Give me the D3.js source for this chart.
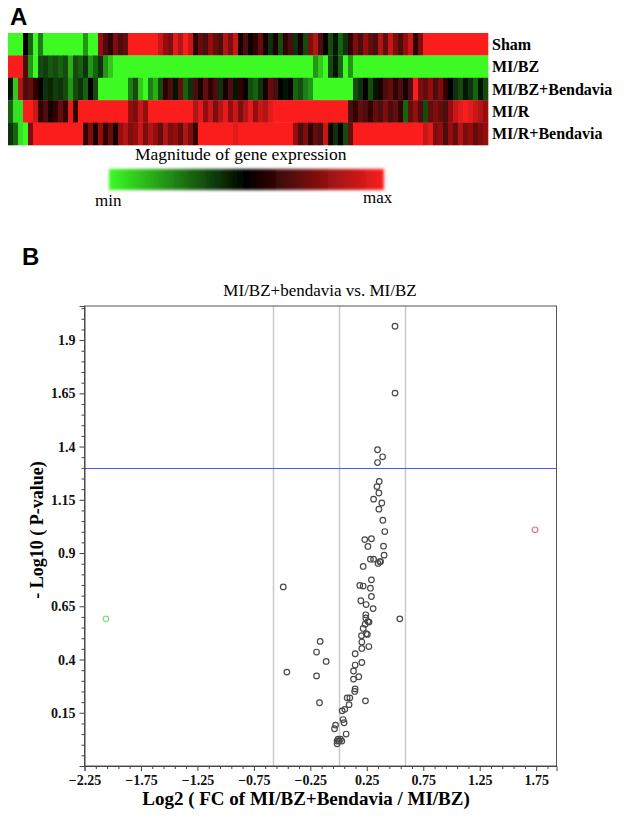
<!DOCTYPE html>
<html>
<head>
<meta charset="utf-8">
<script src="https://cdn.jsdelivr.net/npm/d3@7"></script>
<style>
  body { margin: 0; background: #fff; }
  svg { display: block; }
  .serif { font-family: "Liberation Serif", "Times New Roman", serif; }
</style>
</head>
<body>
<div id="chart"></div>
<script>
// heatmap rows, -1 = min (green), 0 = middle (black), 1 = max (red)
const groups = ["Sham", "MI/BZ", "MI/BZ+Bendavia", "MI/R", "MI/R+Bendavia"];

const sham = [-1,-1,-1,0,-0.4,-1,-0.5,-1,-1,-1,-1,-1,-1,-1,-1,-0.6,-1,-1,0.6,0.3,0.2,0.5,0.3,0.4,
  1,1,1,1,1,1,0.8,0.6,0.5,0.9,0.7,1,0.8,0.2,0.4,0.3,0.6,0.4,0.3,0.7,0.5,0.8,0.1,0.3,
  0.05,0.2,0.4,0.1,-0.2,0.1,-0.3,0.2,0.3,-0.2,0.1,-0.3,0.5,0.7,0.3,0,-0.3,-0.1,-0.4,-0.2,0.2,0.5,0.3,0.6,
  0.4,0.3,0.7,0.4,0.8,0.5,0.3,0.6,0.8,0.2,0.5,1,1,1,1,1,1,1,1,1,1,1,1,1];
const miBz = [1,1,1,0.3,-0.6,-1,-0.3,-0.25,-0.35,-0.3,-0.4,-0.3,-0.7,-0.3,-0.4,-0.2,-0.6,-0.4,-0.2,-0.6,-0.8,-1,-1,-1,
  -1,-1,-1,-1,-1,-1,-1,-1,-1,-1,-1,-1,-1,-1,-1,-1,-1,-1,-1,-1,-1,-1,-1,-1,
  -1,-1,-1,-1,-1,-1,-1,-1,-1,-1,-1,-1,-1,-0.6,-0.8,-1,-0.3,-0.1,-0.4,-1,-0.6,-1,-1,-1,
  -1,-1,-1,-1,-1,-1,-1,-1,-1,-1,-1,-1,-1,-1,-1,-1,-1,-1,-1,-1,-1,-1,-1,-1];
const miBzBendavia = [-0.1,-0.8,0.7,0.3,0.4,0.2,0,-0.2,-0.15,-0.25,-0.2,-0.3,-0.6,-0.3,-0.2,-0.4,0,-0.3,-1,-1,-1,-1,-1,-1,
  -0.5,-0.3,-0.8,-1,-0.5,-0.7,-0.3,0.2,0.3,-0.1,0.4,-0.4,-0.2,0.3,0.1,0.4,0.2,0.3,-0.2,0.1,0.3,-0.1,0.2,0,
  -0.3,-0.4,-0.2,0.1,0.4,0.3,0,-0.1,0,-0.4,-0.3,-0.5,-0.6,-1,-1,-1,-1,-1,-1,-1,-1,-0.3,-0.2,0,
  -0.3,-0.1,0.1,0.3,0.4,0.2,0.3,0.1,0.3,1,0.5,0.4,0.6,0.3,0.5,0.2,0,-0.2,-0.3,-0.1,-0.2,-0.4,-0.1,-0.3];
const miR = [-0.4,-0.9,-0.9,1,1,0.8,0.2,0.3,0.1,0.2,0.4,0.2,0.9,0.2,1,1,1,1,1,1,1,1,1,1,
  0.6,0.5,0.8,0.6,1,1,1,1,1,1,1,1,1,0.7,0.9,0.6,0.8,0.5,0.7,0.9,0.6,0.8,0.5,0.7,
  0.9,0.6,0.8,0.7,0.9,1,1,1,1,1,1,1,1,1,1,1,1,1,1,1,0.3,0.2,0.4,0.3,
  0.2,0.4,0.3,0.5,0.3,0.4,0.2,-0.4,0.4,0.6,0.3,-0.3,0.4,0.5,0.4,0.3,0.6,0.8,0.9,1,0.9,0.8,0.7,0.6];
const miRBendavia = [-0.2,-0.4,-0.9,-1,0.5,1,1,1,1,1,1,1,1,1,1,0.2,0.5,0.1,0.6,0.2,0.4,0.1,0.6,0.7,
  0.5,0.6,0.8,0.5,0.7,0.6,0.4,0.7,0.5,0.6,0.4,0.7,0.5,0.2,1,1,1,1,1,1,1,0.9,1,1,
  1,1,1,1,1,1,1,1,1,0.6,0.3,0.5,0.2,0.4,0.3,0.8,0.1,-0.2,0,-0.3,0.4,1,1,1,
  1,1,1,1,1,1,1,1,1,1,1,0.8,0.9,0.5,0.6,0.3,0.6,0.4,0.7,0.5,0.6,0.4,0.5,0.6];
const heatRows = [sham, miBz, miBzBendavia, miR, miRBendavia];

// volcano plot: [log2 fold change, -log10 p]
const grayGenes = [
  [0.50, 1.965], [0.50, 1.651], [0.345, 1.385], [0.39, 1.352], [0.345, 1.325],
  [0.36, 1.236], [0.34, 1.212], [0.357, 1.182], [0.31, 1.153], [0.383, 1.135],
  [0.357, 1.106], [0.392, 1.054], [0.409, 1.001], [0.232, 0.963], [0.291, 0.967],
  [0.26, 0.931], [0.398, 0.932], [0.403, 0.89], [0.282, 0.871], [0.31, 0.871],
  [0.366, 0.859], [0.372, 0.86], [0.35, 0.851], [0.218, 0.837], [0.291, 0.774],
  [-0.49, 0.741], [0.188, 0.748], [0.218, 0.745], [0.282, 0.735], [0.291, 0.696],
  [0.197, 0.676], [0.244, 0.658], [0.306, 0.639], [0.241, 0.61], [0.542, 0.591],
  [0.241, 0.595], [0.26, 0.578], [0.27, 0.576], [0.235, 0.566], [0.218, 0.546],
  [0.245, 0.521], [0.255, 0.518], [0.203, 0.512], [-0.163, 0.485], [0.206, 0.482],
  [0.268, 0.461], [0.206, 0.452], [-0.195, 0.435], [0.147, 0.427], [-0.11, 0.391],
  [0.206, 0.386], [0.147, 0.374], [-0.458, 0.341], [0.132, 0.346], [-0.195, 0.323],
  [0.179, 0.319], [0.132, 0.308], [0.147, 0.262], [0.143, 0.25], [0.076, 0.22],
  [0.1, 0.22], [-0.169, 0.197], [0.238, 0.206], [0.093, 0.188], [0.055, 0.166],
  [0.032, 0.159], [0.04, 0.118], [0.049, 0.103], [-0.027, 0.092], [-0.036, 0.075],
  [0.067, 0.05], [-0.004, 0.026], [0.017, 0.026], [-0.013, 0.017], [0.005, 0.017],
  [0.029, 0.017], [-0.013, 0.004]
];
const downGenes = [[-2.06, 0.591]];
const upGenes = [[1.74, 1.009]];

const xTicks = [-2.25, -1.75, -1.25, -0.75, -0.25, 0.25, 0.75, 1.25, 1.75];
const yTicks = [0.15, 0.4, 0.65, 0.9, 1.15, 1.4, 1.65, 1.9];
const fcCutoffs = [-0.585, 0, 0.585];
const pCutoff = 1.301;

const width = 629, height = 818;

const svg = d3.select("#chart").append("svg")
    .attr("width", width)
    .attr("height", height);

const defs = svg.append("defs");
defs.append("filter").attr("id", "soft")
    .attr("x", "-10%").attr("y", "-40%").attr("width", "120%").attr("height", "180%")
  .append("feGaussianBlur").attr("stdDeviation", 1.6);
defs.append("filter").attr("id", "jpeg")
  .append("feGaussianBlur").attr("stdDeviation", 0.5);

// ---- panel A ----
svg.append("text")
    .attr("x", 10).attr("y", 25)
    .attr("font-family", "Liberation Sans, Arial, sans-serif")
    .attr("font-weight", "bold").attr("font-size", 24)
    .text("A");

const heatColor = d3.scaleLinear()
    .domain([-1, 0, 1])
    .range(["#3cfb24", "#000000", "#fb1d1d"]);

const hx = d3.scaleBand().domain(d3.range(sham.length)).range([8, 488]);
const hy = d3.scaleBand().domain(groups).range([33, 145]);

const heat = svg.append("g").attr("filter", "url(#jpeg)");
heatRows.forEach((row, i) => {
  heat.append("g")
    .selectAll("rect")
    .data(row)
    .join("rect")
      .attr("x", (d, j) => hx(j))
      .attr("y", hy(groups[i]))
      .attr("width", hx.bandwidth() + 0.3)
      .attr("height", hy.bandwidth() + 0.3)
      .attr("fill", d => heatColor(d));
});

svg.append("g")
    .attr("class", "serif")
    .attr("font-weight", "bold").attr("font-size", 16)
  .selectAll("text")
  .data(groups)
  .join("text")
    .attr("x", 492)
    .attr("y", d => hy(d) + hy.bandwidth() / 2)
    .attr("dy", "0.35em")
    .text(d => d);

// colour key
const grad = defs.append("linearGradient").attr("id", "key");
[-1, -0.5, 0, 0.5, 1].forEach(v => {
  grad.append("stop")
    .attr("offset", `${(v + 1) * 50}%`)
    .attr("stop-color", heatColor(v));
});

svg.append("text")
    .attr("class", "serif")
    .attr("x", 135).attr("y", 160)
    .attr("font-size", 17.5)
    .text("Magnitude of gene expression");

svg.append("rect")
    .attr("x", 109).attr("y", 169)
    .attr("width", 275).attr("height", 21)
    .attr("fill", "url(#key)")
    .attr("filter", "url(#soft)");

svg.append("text").attr("class", "serif")
    .attr("x", 95).attr("y", 206).attr("font-size", 17)
    .text("min");
svg.append("text").attr("class", "serif")
    .attr("x", 363).attr("y", 203).attr("font-size", 17)
    .text("max");

// ---- panel B ----
svg.append("text")
    .attr("x", 22).attr("y", 265)
    .attr("font-family", "Liberation Sans, Arial, sans-serif")
    .attr("font-weight", "bold").attr("font-size", 24)
    .text("B");

const x = d3.scaleLinear().domain([-2.25, 1.93]).range([84.5, 556.5]);
const y = d3.scaleLinear().domain([-0.1, 2.06]).range([766, 306]);

svg.append("text")
    .attr("class", "serif")
    .attr("x", 320).attr("y", 296)
    .attr("text-anchor", "middle")
    .attr("font-size", 17)
    .text("MI/BZ+bendavia vs. MI/BZ");

const plot = svg.append("g");

plot.append("g")
    .attr("stroke", "#c9c9c9").attr("stroke-width", 1.5)
  .selectAll("line")
  .data(fcCutoffs)
  .join("line")
    .attr("x1", d => Math.round(x(d)) + 0.5).attr("x2", d => Math.round(x(d)) + 0.5)
    .attr("y1", y.range()[1]).attr("y2", y.range()[0]);

plot.append("line")
    .attr("x1", x.range()[0]).attr("x2", x.range()[1])
    .attr("y1", Math.round(y(pCutoff)) + 0.5).attr("y2", Math.round(y(pCutoff)) + 0.5)
    .attr("stroke", "#4d55f0").attr("stroke-width", 1.2);

const dots = (data, color) => plot.append("g")
    .attr("fill", "none").attr("stroke", color).attr("stroke-width", 1.2)
  .selectAll("circle")
  .data(data)
  .join("circle")
    .attr("cx", d => x(d[0]))
    .attr("cy", d => y(d[1]))
    .attr("r", 2.8);

dots(grayGenes, "#484848");
dots(downGenes, "#7ee07e");
dots(upGenes, "#f07080");

// frame
plot.append("rect")
    .attr("x", x.range()[0]).attr("y", y.range()[1])
    .attr("width", x.range()[1] - x.range()[0])
    .attr("height", y.range()[0] - y.range()[1])
    .attr("fill", "none").attr("stroke", "#555");

const xMinor = d3.range(-2.25, 1.93, 0.1).filter(v => !xTicks.some(t => Math.abs(t - v) < 1e-6));
const yMinor = d3.range(-0.1, 2.06, 0.05).filter(v => !yTicks.some(t => Math.abs(t - v) < 1e-6));

const xAxis = svg.append("g")
    .attr("transform", `translate(0,${y.range()[0]})`)
    .call(d3.axisBottom(x).tickValues(xTicks).tickSize(5).tickPadding(4).tickFormat(d3.format(".2f")));
svg.append("g")
    .attr("transform", `translate(0,${y.range()[0]})`)
    .call(d3.axisBottom(x).tickValues(xMinor).tickSize(3).tickFormat(""))
    .call(g => g.select(".domain").remove());

const yAxis = svg.append("g")
    .attr("transform", `translate(${x.range()[0]},0)`)
    .call(d3.axisLeft(y).tickValues(yTicks).tickSize(5).tickPadding(4).tickFormat(d => String(d)));
svg.append("g")
    .attr("transform", `translate(${x.range()[0]},0)`)
    .call(d3.axisLeft(y).tickValues(yMinor).tickSize(3).tickFormat(""))
    .call(g => g.select(".domain").remove());

svg.selectAll(".tick line").attr("stroke", "#444");
svg.selectAll(".domain").attr("stroke", "#444");
[xAxis, yAxis].forEach(a => a.selectAll("text")
    .attr("class", "serif")
    .attr("font-size", 14)
    .attr("font-weight", "bold")
    .attr("fill", "#111"));

svg.append("text")
    .attr("class", "serif")
    .attr("x", 306).attr("y", 805)
    .attr("text-anchor", "middle")
    .attr("font-size", 19).attr("font-weight", "bold")
    .text("Log2 ( FC of MI/BZ+Bendavia / MI/BZ)");

svg.append("text")
    .attr("class", "serif")
    .attr("transform", "translate(43,530) rotate(-90)")
    .attr("text-anchor", "middle")
    .attr("font-size", 18).attr("font-weight", "bold")
    .text("- Log10 ( P-value)");
</script>
</body>
</html>
